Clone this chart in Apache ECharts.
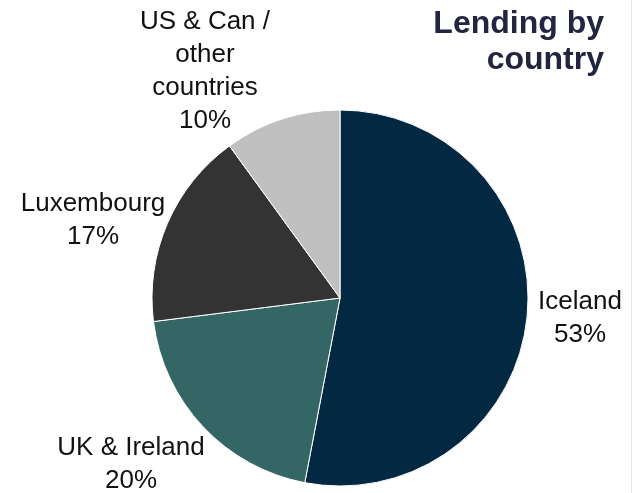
<!DOCTYPE html>
<html>
<head>
<meta charset="utf-8">
<script src="https://cdn.jsdelivr.net/npm/echarts@6/dist/echarts.min.js"></script>
<style>
  html, body { margin: 0; padding: 0; background: #fff; }
  #main { width: 636px; height: 493px; }
</style>
</head>
<body>
<div id="main"></div>
<script>
const countries = ['Iceland', 'UK & Ireland', 'Luxembourg', 'US & Can /\nother\ncountries'];
const shares = [53, 20, 17, 10];
const colors = ['#022842', '#336664', '#333333', '#c0c0c0'];

// where each label sits (centre of text block)
const labelSpots = [[580, 318], [131, 464], [93, 220], [205, 71]];

const chart = echarts.init(document.getElementById('main'));

chart.setOption({
  animation: false,
  graphic: [{
    type: 'line',
    shape: {x1: 631.5, y1: 0, x2: 631.5, y2: 493},
    style: {stroke: '#e4e4e4', lineWidth: 1}
  }, {
    type: 'text',
    x: 604,
    y: 6,
    style: {
      text: 'Lending by\ncountry',
      align: 'right',
      verticalAlign: 'top',
      fontFamily: 'Liberation Sans',
      fontWeight: 'bold',
      fontSize: 32,
      lineHeight: 36,
      fill: '#23243f'
    }
  }],
  series: [{
    type: 'pie',
    center: [340, 298],
    radius: 188,
    startAngle: 90,
    clockwise: true,
    data: countries.map((name, i) => ({
      name: name,
      value: shares[i],
      itemStyle: {color: colors[i]}
    })),
    itemStyle: {borderColor: '#ffffff', borderWidth: 1},
    label: {
      show: true,
      position: 'outside',
      formatter: '{b}\n{c}%',
      fontFamily: 'Liberation Sans',
      fontSize: 26,
      lineHeight: 33,
      color: '#111111',
      align: 'center',
      overflow: 'none'
    },
    labelLine: {show: false},
    labelLayout: function (params) {
      const p = labelSpots[params.dataIndex];
      return {x: p[0], y: p[1], align: 'center', verticalAlign: 'middle'};
    },
    emphasis: {disabled: true}
  }]
});
</script>
</body>
</html>
